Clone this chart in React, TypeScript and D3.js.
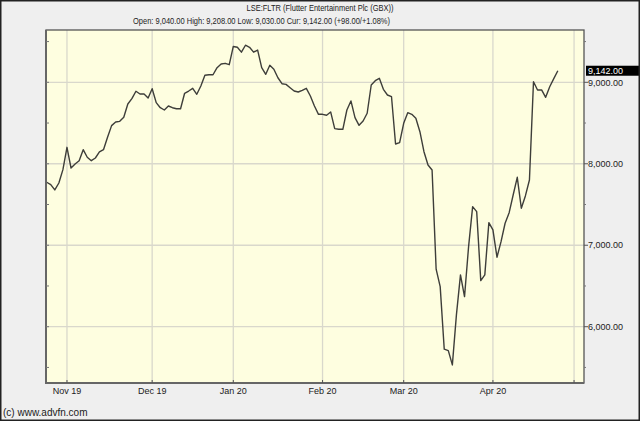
import React from "react";
import * as d3 from "d3";

const prices: number[] = [
  7773, 7744, 7679, 7764, 7928, 8202, 7948, 7997, 8038, 8173,
  8080, 8038, 8071, 8145, 8173, 8325, 8468, 8513, 8521, 8571,
  8734, 8799, 8890, 8856, 8856, 8807, 8921, 8750, 8688, 8660,
  8709, 8688, 8676, 8676, 8865, 8893, 8926, 8853, 8955, 9086,
  9093, 9093, 9179, 9225, 9233, 9216, 9440, 9430, 9370, 9455,
  9430, 9370, 9396, 9180, 9098, 9209, 9160, 9056, 8983, 8975,
  8934, 8893, 8881, 8902, 8926, 8832, 8709, 8607, 8607, 8595,
  8636, 8431, 8423, 8423, 8660, 8771, 8566, 8472, 8525, 8620,
  8967, 9020, 9049, 8914, 8844, 8823, 8243, 8259, 8497, 8627,
  8607, 8558, 8394, 8148, 7985, 7924, 6706, 6492, 5724, 5707,
  5531, 6145, 6636, 6369, 6983, 7474, 7412, 6566, 6636, 7278,
  7188, 6853, 7044, 7270, 7400, 7620, 7834, 7454, 7605, 7801,
  9007, 8906, 8906, 8816, 8946, 9045, 9142,
];

// trading-day index of the first session of each month
const monthStarts: number[] = [5, 26, 46, 68, 88, 110, 130];
const monthLabels: string[] = ["Nov 19", "Dec 19", "Jan 20", "Feb 20", "Mar 20", "Apr 20", ""];
const majorTicks: number[] = [6000, 7000, 8000, 9000];
const minorTicks: number[] = [5500, 6500, 7500, 8500, 9500];
const majorLabels: string[] = ["6,000.00", "7,000.00", "8,000.00", "9,000.00"];

const title = "LSE:FLTR (Flutter Entertainment Plc (GBX))";
const subtitle = "Open: 9,040.00 High: 9,208.00 Low: 9,030.00 Cur: 9,142.00 (+98.00/+1.08%)";
const currentLabel = "9,142.00";
const footer = "(c) www.advfn.com";

const W = 640;
const H = 421;
const L = 46, R = 584, T = 30, B = 383;

export default function App() {
  const x = d3.scaleLinear().domain([-0.17, 132.45]).range([L, R]);
  const y = d3.scaleLinear().domain([5309, 9642]).range([B, T]);
  const line = d3
    .line<number>()
    .x((_, i) => x(i))
    .y((d) => y(d));
  const last = prices[prices.length - 1];
  const font = "'Liberation Sans', Arial, sans-serif";

  return (
    <div style={{ position: "absolute", left: 0, top: 0 }}>
      <svg width={W} height={H} style={{ display: "block" }} fontFamily={font}>
        <rect x={0} y={0} width={W} height={H} fill="#efefef" />
        <text x={320} y={11} textAnchor="middle" fontSize={8.5} fill="#222" textLength={147} lengthAdjust="spacingAndGlyphs">
          {title}
        </text>
        <text x={261.5} y={24} textAnchor="middle" fontSize={8.5} fill="#222" textLength={257} lengthAdjust="spacingAndGlyphs">
          {subtitle}
        </text>
        <rect x={L} y={T} width={R - L} height={B - T} fill="#fefee0" />
        {majorTicks.map((v) => (
          <line key={"hg" + v} x1={L} x2={R} y1={y(v)} y2={y(v)} stroke="#d9d8cc" strokeWidth={1.3} />
        ))}
        {monthStarts.map((m) => (
          <line key={"vg" + m} x1={x(m)} x2={x(m)} y1={T} y2={B} stroke="#d9d8cc" strokeWidth={1.3} />
        ))}
        <path d={line(prices) || ""} fill="none" stroke="#3e3e3a" strokeWidth={1.4} strokeLinejoin="round" />
        {/* frame */}
        <rect x={L} y={T} width={R - L} height={B - T} fill="none" stroke="#555" strokeWidth={1.3} />
        <line x1={L} x2={L} y1={T} y2={B + 1} stroke="#666" strokeWidth={2} />
        <line x1={L} x2={R} y1={B} y2={B} stroke="#666" strokeWidth={2} />
        {/* left ticks */}
        {majorTicks.concat(minorTicks).map((v) => (
          <line key={"lt" + v} x1={L} x2={L + 3} y1={y(v)} y2={y(v)} stroke="#777" strokeWidth={1} />
        ))}
        {/* right ticks */}
        {majorTicks.map((v) => (
          <line key={"rt" + v} x1={R} x2={R + 4} y1={y(v)} y2={y(v)} stroke="#555" strokeWidth={1} />
        ))}
        {minorTicks.map((v) => (
          <line key={"rm" + v} x1={R} x2={R + 2} y1={y(v)} y2={y(v)} stroke="#777" strokeWidth={1} />
        ))}
        {majorTicks.map((v, i) => (
          <text key={"rl" + v} x={R + 4} y={y(v) + 3.2} fontSize={9} fill="#222">
            {majorLabels[i]}
          </text>
        ))}
        {/* bottom ticks and labels */}
        {monthStarts.map((m, i) => (
          <g key={"bt" + m}>
            <line x1={x(m)} x2={x(m)} y1={B} y2={B - 3} stroke="#555" strokeWidth={1} />
            <text x={x(m)} y={394} textAnchor="middle" fontSize={9} fill="#222">
              {monthLabels[i]}
            </text>
          </g>
        ))}
        {/* current value marker */}
        <rect x={586} y={y(last) - 5} width={54} height={10} fill="#000" />
        <text x={588} y={y(last) + 3.3} fontSize={9} fill="#fff">
          {currentLabel}
        </text>
        <text x={3} y={416} fontSize={10} fill="#222">
          {footer}
        </text>
        <rect x={0.75} y={0.75} width={W - 1.5} height={H - 1.5} fill="none" stroke="#222" strokeWidth={1.5} />
      </svg>
    </div>
  );
}
